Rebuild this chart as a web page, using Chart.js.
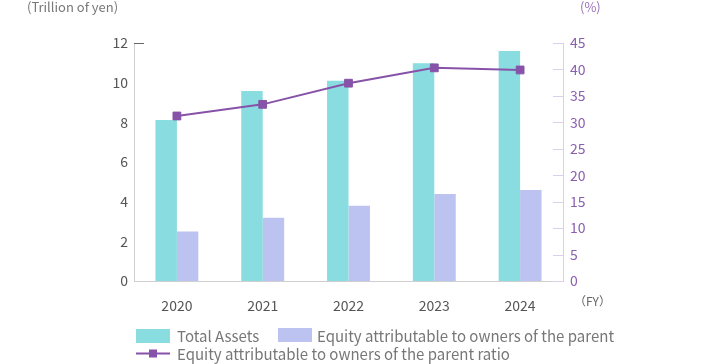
<!DOCTYPE html>
<html>
<head>
<meta charset="utf-8">
<script src="https://cdn.jsdelivr.net/npm/chart.js@4"></script>
<style>
  html, body { margin: 0; padding: 0; background: #fff; }
  #wrap { width: 704px; height: 364px; position: relative; }
</style>
</head>
<body>
<div id="wrap"><canvas id="chart" width="704" height="364"></canvas></div>
<script>
const years = ['2020', '2021', '2022', '2023', '2024'];
const totalAssets = [8.12, 9.58, 10.1, 10.98, 11.6];
const equity = [2.49, 3.19, 3.8, 4.39, 4.59];
const equityRatio = [31.2, 33.4, 37.4, 40.3, 39.9];
const leftTicks = [0, 2, 4, 6, 8, 10, 12];
const rightTicks = [0, 5, 10, 15, 20, 25, 30, 35, 40, 45];

const FONT = '"Noto Sans CJK JP", "Noto Sans", sans-serif';
const TEAL = '#89dcdf';
const LAVENDER = '#bcc3f0';
const PURPLE = '#8753a8';

// titles, axis caps and the two-row legend
const extras = {
  id: 'extras',
  afterDraw(chart) {
    const ctx = chart.ctx;
    const area = chart.chartArea;
    const y1 = chart.scales.y1;
    ctx.save();

    // inward tick marks on the ratio axis
    ctx.strokeStyle = '#dccfe9';
    ctx.lineWidth = 1;
    y1.ticks.forEach(t => {
      const py = Math.round(y1.getPixelForValue(t.value)) + 0.5;
      ctx.beginPath();
      ctx.moveTo(area.right - 10, py);
      ctx.lineTo(area.right, py);
      ctx.stroke();
    });

    // cap at the top of left axis
    ctx.strokeStyle = '#666';
    ctx.beginPath();
    ctx.moveTo(area.left, Math.round(area.top) + 0.5);
    ctx.lineTo(area.left + 10, Math.round(area.top) + 0.5);
    ctx.stroke();

    ctx.font = '13px ' + FONT;
    ctx.textBaseline = 'middle';
    ctx.fillStyle = '#777';
    ctx.textAlign = 'left';
    ctx.fillText('(Trillion of yen)', 27, 7);
    ctx.fillStyle = '#9a72b8';
    ctx.fillText('(%)', 580, 7);
    ctx.fillStyle = '#666';
    ctx.font = '12px ' + FONT;
    ctx.fillText('（FY）', 574, 301);

    // legend
    const ds = chart.data.datasets;
    ctx.font = '15px ' + FONT;
    ctx.fillStyle = TEAL;
    ctx.fillRect(136, 329, 34, 14);
    ctx.fillStyle = LAVENDER;
    ctx.fillRect(278, 328, 34, 14);
    ctx.strokeStyle = PURPLE;
    ctx.lineWidth = 2;
    ctx.beginPath();
    ctx.moveTo(136, 353.5);
    ctx.lineTo(170, 353.5);
    ctx.stroke();
    ctx.fillStyle = PURPLE;
    ctx.fillRect(149, 349.5, 8, 8);

    ctx.fillStyle = '#777';
    ctx.fillText(ds[1].label, 177, 336);
    ctx.fillText(ds[2].label, 317, 336);
    ctx.fillText(ds[0].label, 177, 354);
    ctx.restore();
  }
};

new Chart(document.getElementById('chart'), {
  type: 'bar',
  data: {
    labels: years,
    datasets: [
      {
        type: 'line',
        label: 'Equity attributable to owners of the parent ratio',
        data: equityRatio,
        yAxisID: 'y1',
        borderColor: PURPLE,
        backgroundColor: PURPLE,
        borderWidth: 2,
        pointStyle: 'rect',
        pointRadius: 5.5,
        pointBorderWidth: 1,
        order: 0
      },
      {
        label: 'Total Assets',
        data: totalAssets,
        backgroundColor: TEAL,
        yAxisID: 'y',
        order: 1
      },
      {
        label: 'Equity attributable to owners of the parent',
        data: equity,
        backgroundColor: LAVENDER,
        yAxisID: 'y',
        order: 1
      }
    ]
  },
  options: {
    responsive: false,
    animation: false,
    datasets: { bar: { categoryPercentage: 0.5, barPercentage: 1.0 } },
    layout: { padding: { top: 43, left: 0, right: 0, bottom: 0 } },
    plugins: { legend: { display: false }, tooltip: { enabled: false } },
    scales: {
      x: {
        grid: { display: false, drawTicks: false, tickLength: 0 },
        border: { color: '#cfcfcf', width: 1 },
        ticks: { color: '#555', font: { family: FONT, size: 14 }, padding: 16 },
        afterFit(s) { s.height = 83; }
      },
      y: {
        position: 'left',
        min: 0,
        max: 12,
        afterBuildTicks(s) { s.ticks = leftTicks.map(v => ({ value: v })); },
        grid: { display: false, drawTicks: false, tickLength: 0 },
        border: { color: '#cfcfcf', width: 1 },
        ticks: { color: '#555', font: { family: FONT, size: 14 }, padding: 6 },
        afterFit(s) { s.width = 134; }
      },
      y1: {
        position: 'right',
        min: 0,
        max: 45,
        afterBuildTicks(s) { s.ticks = rightTicks.map(v => ({ value: v })); },
        grid: { display: false, drawTicks: false, tickLength: 0 },
        border: { color: '#dccfe9', width: 1 },
        ticks: { color: '#8a5fae', font: { family: FONT, size: 14 }, padding: 7 },
        afterFit(s) { s.width = 141; }
      }
    }
  },
  plugins: [extras]
});
</script>
</body>
</html>
